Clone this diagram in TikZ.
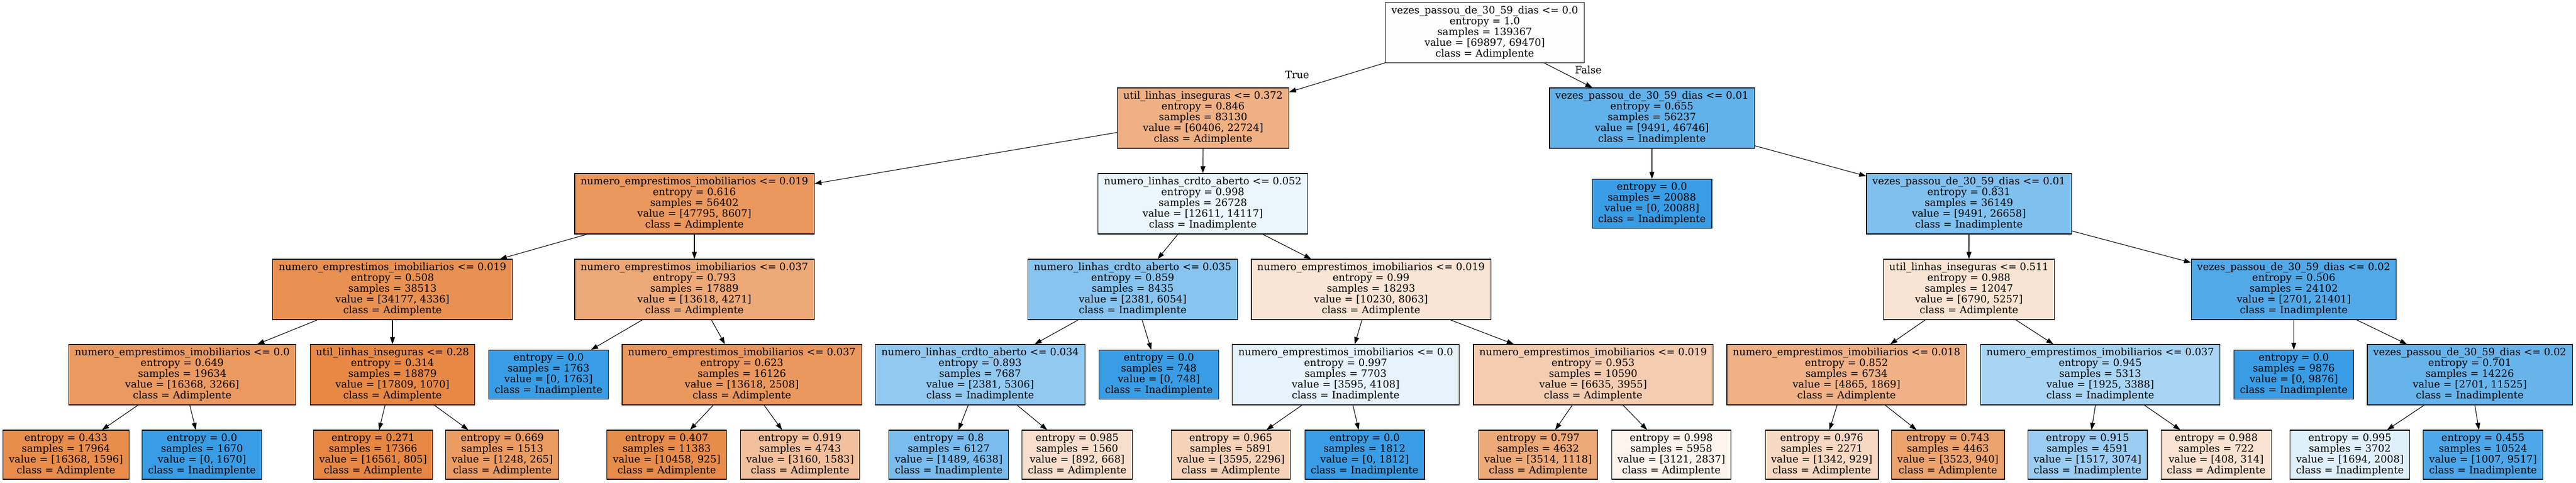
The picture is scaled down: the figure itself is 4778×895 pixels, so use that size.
\documentclass[tikz,border=0pt]{standalone}
\usepackage{fontspec}
\setmainfont{DejaVu Serif}
\usepackage{tikz}
\usetikzlibrary{shapes,arrows.meta,positioning}
\definecolor{adim}{RGB}{229,129,57}
\definecolor{inad}{RGB}{57,157,229}
\newcommand{\topgap}{\rule{0pt}{15.5pt}}
\newcommand{\botgap}{\rule[-4.5pt]{0pt}{4.5pt}}

\begin{document}
\begin{tikzpicture}[x=1pt,y=-1pt]

 \tikzstyle{split}=[rectangle,draw=black,line width=1.1pt,align=center,
inner xsep=11pt,inner ysep=0pt,minimum height=112pt,
font=\fontsize{18.67pt}{20pt}\selectfont,
execute at begin node=\topgap,execute at end node=\botgap]
 \tikzstyle{leaf}=[split,minimum height=91pt]
 \tikzstyle{branch}=[-{Triangle[length=13pt,width=9pt]},line width=1.1pt]

\useasboundingbox (0,0) rectangle (4778,895);

% Root
\node[split,fill=adim!0.6] (N_root) at (2754,60.5) {vezes\_passou\_de\_30\_59\_dias <= 0.0\\entropy = 1.0\\samples = 139367\\value = [69897, 69470]\\class = Adimplente};

% Depth 1
\node[split,fill=adim!62.4] (N_util1) at (2231.5,219) {util\_linhas\_inseguras <= 0.372\\entropy = 0.846\\samples = 83130\\value = [60406, 22724]\\class = Adimplente};
\node[split,fill=inad!79.7] (N_vez1) at (3064,219) {vezes\_passou\_de\_30\_59\_dias <= 0.01\\entropy = 0.655\\samples = 56237\\value = [9491, 46746]\\class = Inadimplente};

% Depth 2
\node[split,fill=adim!82.0] (N_nei1) at (1288,378) {numero\_emprestimos\_imobiliarios <= 0.019\\entropy = 0.616\\samples = 56402\\value = [47795, 8607]\\class = Adimplente};
\node[split,fill=inad!10.7] (N_nlc1) at (2231,378) {numero\_linhas\_crdto\_aberto <= 0.052\\entropy = 0.998\\samples = 26728\\value = [12611, 14117]\\class = Inadimplente};
\node[leaf,fill=inad] (N_leafA) at (3064,378) {entropy = 0.0\\samples = 20088\\value = [0, 20088]\\class = Inadimplente};
\node[split,fill=inad!64.4] (N_vez2) at (3652,378) {vezes\_passou\_de\_30\_59\_dias <= 0.01\\entropy = 0.831\\samples = 36149\\value = [9491, 26658]\\class = Inadimplente};

% Depth 3
\node[split,fill=adim!87.3] (N_nei2) at (728,537) {numero\_emprestimos\_imobiliarios <= 0.019\\entropy = 0.508\\samples = 38513\\value = [34177, 4336]\\class = Adimplente};
\node[split,fill=adim!68.6] (N_nei3) at (1288,537) {numero\_emprestimos\_imobiliarios <= 0.037\\entropy = 0.793\\samples = 17889\\value = [13618, 4271]\\class = Adimplente};
\node[split,fill=inad!60.7] (N_nlc2) at (2101,537) {numero\_linhas\_crdto\_aberto <= 0.035\\entropy = 0.859\\samples = 8435\\value = [2381, 6054]\\class = Inadimplente};
\node[split,fill=adim!21.2] (N_nei4) at (2543,537) {numero\_emprestimos\_imobiliarios <= 0.019\\entropy = 0.99\\samples = 18293\\value = [10230, 8063]\\class = Adimplente};
\node[split,fill=adim!22.6] (N_util2) at (3652,537) {util\_linhas\_inseguras <= 0.511\\entropy = 0.988\\samples = 12047\\value = [6790, 5257]\\class = Adimplente};
\node[split,fill=inad!87.4] (N_vez3) at (4254.5,537) {vezes\_passou\_de\_30\_59\_dias <= 0.02\\entropy = 0.506\\samples = 24102\\value = [2701, 21401]\\class = Inadimplente};

% Depth 4
\node[split,fill=adim!80.0] (N_nei5) at (338,695) {numero\_emprestimos\_imobiliarios <= 0.0\\entropy = 0.649\\samples = 19634\\value = [16368, 3266]\\class = Adimplente};
\node[split,fill=adim!94.0] (N_util3) at (728,695) {util\_linhas\_inseguras <= 0.28\\entropy = 0.314\\samples = 18879\\value = [17809, 1070]\\class = Adimplente};
\node[leaf,fill=inad] (N_leafB) at (1017.5,695) {entropy = 0.0\\samples = 1763\\value = [0, 1763]\\class = Inadimplente};
\node[split,fill=adim!81.6] (N_nei6) at (1376,695) {numero\_emprestimos\_imobiliarios <= 0.037\\entropy = 0.623\\samples = 16126\\value = [13618, 2508]\\class = Adimplente};
\node[split,fill=inad!55.1] (N_nlc3) at (1818,695) {numero\_linhas\_crdto\_aberto <= 0.034\\entropy = 0.893\\samples = 7687\\value = [2381, 5306]\\class = Inadimplente};
\node[leaf,fill=inad] (N_leafC) at (2149.5,695) {entropy = 0.0\\samples = 748\\value = [0, 748]\\class = Inadimplente};
\node[split,fill=inad!12.5] (N_nei7) at (2496,695) {numero\_emprestimos\_imobiliarios <= 0.0\\entropy = 0.997\\samples = 7703\\value = [3595, 4108]\\class = Inadimplente};
\node[split,fill=adim!40.4] (N_nei8) at (2955,695) {numero\_emprestimos\_imobiliarios <= 0.019\\entropy = 0.953\\samples = 10590\\value = [6635, 3955]\\class = Adimplente};
\node[split,fill=adim!61.6] (N_nei9) at (3425,695) {numero\_emprestimos\_imobiliarios <= 0.018\\entropy = 0.852\\samples = 6734\\value = [4865, 1869]\\class = Adimplente};
\node[split,fill=inad!43.2] (N_nei10) at (3895.6,695) {numero\_emprestimos\_imobiliarios <= 0.037\\entropy = 0.945\\samples = 5313\\value = [1925, 3388]\\class = Inadimplente};
\node[leaf,fill=inad] (N_leafD) at (4254.5,695) {entropy = 0.0\\samples = 9876\\value = [0, 9876]\\class = Inadimplente};
\node[split,fill=inad!76.6] (N_vez4) at (4581,695) {vezes\_passou\_de\_30\_59\_dias <= 0.02\\entropy = 0.701\\samples = 14226\\value = [2701, 11525]\\class = Inadimplente};

% Depth 5 leaves
\node[leaf,fill=adim!90.2] (L_1) at (122.4,843.5) {entropy = 0.433\\samples = 17964\\value = [16368, 1596]\\class = Adimplente};
\node[leaf,fill=inad] (L_2) at (374.7,843.5) {entropy = 0.0\\samples = 1670\\value = [0, 1670]\\class = Inadimplente};
\node[leaf,fill=adim!95.1] (L_3) at (692,843.5) {entropy = 0.271\\samples = 17366\\value = [16561, 805]\\class = Adimplente};
\node[leaf,fill=adim!78.8] (L_4) at (931.7,843.5) {entropy = 0.669\\samples = 1513\\value = [1248, 265]\\class = Adimplente};
\node[leaf,fill=adim!91.2] (L_5) at (1236.7,843.5) {entropy = 0.407\\samples = 11383\\value = [10458, 925]\\class = Adimplente};
\node[leaf,fill=adim!49.9] (L_6) at (1484,843.5) {entropy = 0.919\\samples = 4743\\value = [3160, 1583]\\class = Adimplente};
\node[leaf,fill=inad!67.9] (L_7) at (1759.8,843.5) {entropy = 0.8\\samples = 6127\\value = [1489, 4638]\\class = Inadimplente};
\node[leaf,fill=adim!25.1] (L_8) at (1998,843.5) {entropy = 0.985\\samples = 1560\\value = [892, 668]\\class = Adimplente};
\node[leaf,fill=adim!36.1] (L_9) at (2283,843.5) {entropy = 0.965\\samples = 5891\\value = [3595, 2296]\\class = Adimplente};
\node[leaf,fill=inad] (L_10) at (2531,843.5) {entropy = 0.0\\samples = 1812\\value = [0, 1812]\\class = Inadimplente};
\node[leaf,fill=adim!68.2] (L_11) at (2853,843.5) {entropy = 0.797\\samples = 4632\\value = [3514, 1118]\\class = Adimplente};
\node[leaf,fill=adim!9.1] (L_12) at (3100,843.5) {entropy = 0.998\\samples = 5958\\value = [3121, 2837]\\class = Adimplente};
\node[leaf,fill=adim!30.8] (L_13) at (3379,843.5) {entropy = 0.976\\samples = 2271\\value = [1342, 929]\\class = Adimplente};
\node[leaf,fill=adim!73.3] (L_14) at (3613,843.5) {entropy = 0.743\\samples = 4463\\value = [3523, 940]\\class = Adimplente};
\node[leaf,fill=inad!50.7] (L_15) at (3872,843.5) {entropy = 0.915\\samples = 4591\\value = [1517, 3074]\\class = Inadimplente};
\node[leaf,fill=adim!23.0] (L_16) at (4110.6,843.5) {entropy = 0.988\\samples = 722\\value = [408, 314]\\class = Adimplente};
\node[leaf,fill=inad!15.6] (L_17) at (4358.6,843.5) {entropy = 0.995\\samples = 3702\\value = [1694, 2008]\\class = Inadimplente};
\node[leaf,fill=inad!89.4] (L_18) at (4605.5,843.5) {entropy = 0.455\\samples = 10524\\value = [1007, 9517]\\class = Inadimplente};

% Branch labels
\node[font=\fontsize{18.67pt}{20pt}\selectfont] (T_true) at (2406,139) {True};
\node[font=\fontsize{18.67pt}{20pt}\selectfont] (T_false) at (2946,130) {False};

% Branches
\draw[branch] (N_root) -- (N_util1);
\draw[branch] (N_root) -- (N_vez1);

\draw[branch] (N_util1) -- (N_nei1);
\draw[branch] (N_util1) -- (N_nlc1);
\draw[branch] (N_vez1) -- (N_leafA);
\draw[branch] (N_vez1) -- (N_vez2);

\draw[branch] (N_nei1) -- (N_nei2);
\draw[branch] (N_nei1) -- (N_nei3);
\draw[branch] (N_nlc1) -- (N_nlc2);
\draw[branch] (N_nlc1) -- (N_nei4);
\draw[branch] (N_vez2) -- (N_util2);
\draw[branch] (N_vez2) -- (N_vez3);

\draw[branch] (N_nei2) -- (N_nei5);
\draw[branch] (N_nei2) -- (N_util3);
\draw[branch] (N_nei3) -- (N_leafB);
\draw[branch] (N_nei3) -- (N_nei6);
\draw[branch] (N_nlc2) -- (N_nlc3);
\draw[branch] (N_nlc2) -- (N_leafC);
\draw[branch] (N_nei4) -- (N_nei7);
\draw[branch] (N_nei4) -- (N_nei8);
\draw[branch] (N_util2) -- (N_nei9);
\draw[branch] (N_util2) -- (N_nei10);
\draw[branch] (N_vez3) -- (N_leafD);
\draw[branch] (N_vez3) -- (N_vez4);

\draw[branch] (N_nei5) -- (L_1);
\draw[branch] (N_nei5) -- (L_2);
\draw[branch] (N_util3) -- (L_3);
\draw[branch] (N_util3) -- (L_4);
\draw[branch] (N_nei6) -- (L_5);
\draw[branch] (N_nei6) -- (L_6);
\draw[branch] (N_nlc3) -- (L_7);
\draw[branch] (N_nlc3) -- (L_8);
\draw[branch] (N_nei7) -- (L_9);
\draw[branch] (N_nei7) -- (L_10);
\draw[branch] (N_nei8) -- (L_11);
\draw[branch] (N_nei8) -- (L_12);
\draw[branch] (N_nei9) -- (L_13);
\draw[branch] (N_nei9) -- (L_14);
\draw[branch] (N_nei10) -- (L_15);
\draw[branch] (N_nei10) -- (L_16);
\draw[branch] (N_vez4) -- (L_17);
\draw[branch] (N_vez4) -- (L_18);

\end{tikzpicture}
\end{document}
